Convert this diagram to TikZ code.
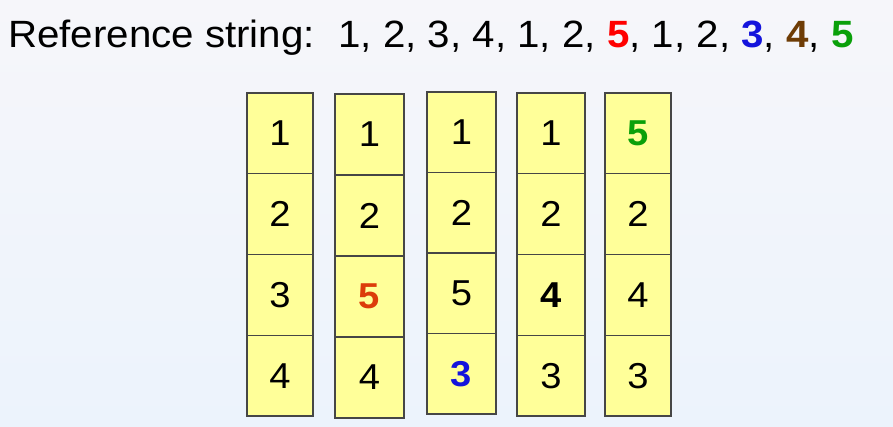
\documentclass[tikz,border=0pt]{standalone}
\usepackage{fontspec}
\setmainfont[FakeStretch=1.06]{Liberation Sans}
\usetikzlibrary{positioning,shadows}
\definecolor{cellfill}{RGB}{255,255,153}
\definecolor{cellline}{RGB}{70,70,70}
\definecolor{bgtop}{RGB}{246,246,250}
\definecolor{bgbot}{RGB}{236,243,252}
\definecolor{refred}{RGB}{255,0,0}
\definecolor{refblue}{RGB}{20,20,220}
\definecolor{refbrown}{RGB}{110,60,5}
\definecolor{refgreen}{RGB}{10,160,10}
\definecolor{refora}{RGB}{220,60,10}
\begin{document}
\begin{tikzpicture}[x=1pt,y=-1pt,
  cell/.style={draw=cellline,line width=1.2pt,fill=cellfill,inner sep=0pt,outer sep=0pt,
    minimum height=80.75pt,font=\fontsize{36}{36}\selectfont,
    drop shadow={shadow xshift=1.2pt,shadow yshift=-1pt,opacity=0.4}}]
  % background
  \shade[top color=bgtop,bottom color=bgbot] (0,0) rectangle (893,427);
  \useasboundingbox (0,0) rectangle (893,427);
  % reference string
  \node[anchor=base west,inner sep=0pt,font=\fontsize{38}{38}\selectfont] (refstr) at (8,48)
    {Reference string:\hspace{0.62em}1, 2, 3, 4, 1, 2, \textcolor{refred}{\bfseries 5}, 1, 2, \textcolor{refblue}{\bfseries 3}, \textcolor{refbrown}{\bfseries 4}, \textcolor{refgreen}{\bfseries 5}};
  % frame 1
  \node[cell,minimum width=66pt,anchor=north] (A1) at (280,93) {1};
  \node[cell,minimum width=66pt,below=0pt of A1] (A2) {2};
  \node[cell,minimum width=66pt,below=0pt of A2] (A3) {3};
  \node[cell,minimum width=66pt,below=0pt of A3] (A4) {4};
  % frame 2
  \node[cell,minimum width=69pt,minimum height=81pt,anchor=north] (B1) at (369.5,94) {1};
  \node[cell,minimum width=69pt,minimum height=81pt,below=0pt of B1] (B2) {2};
  \node[cell,minimum width=69pt,minimum height=81pt,below=0pt of B2] (B3) {\textcolor{refora}{\bfseries 5}};
  \node[cell,minimum width=69pt,minimum height=81pt,below=0pt of B3] (B4) {4};
  % frame 3
  \node[cell,minimum width=69pt,minimum height=80.5pt,anchor=north] (C1) at (461.5,92) {1};
  \node[cell,minimum width=69pt,minimum height=80.5pt,below=0pt of C1] (C2) {2};
  \node[cell,minimum width=69pt,minimum height=80.5pt,below=0pt of C2] (C3) {5};
  \node[cell,minimum width=69pt,minimum height=80.5pt,below=0pt of C3] (C4) {\textcolor{refblue}{\bfseries 3}};
  % frame 4
  \node[cell,minimum width=68pt,anchor=north] (D1) at (551,93) {1};
  \node[cell,minimum width=68pt,below=0pt of D1] (D2) {2};
  \node[cell,minimum width=68pt,below=0pt of D2] (D3) {\bfseries 4};
  \node[cell,minimum width=68pt,below=0pt of D3] (D4) {3};
  % frame 5
  \node[cell,minimum width=66pt,anchor=north] (E1) at (638,93) {\textcolor{refgreen}{\bfseries 5}};
  \node[cell,minimum width=66pt,below=0pt of E1] (E2) {2};
  \node[cell,minimum width=66pt,below=0pt of E2] (E3) {4};
  \node[cell,minimum width=66pt,below=0pt of E3] (E4) {3};
\end{tikzpicture}
\end{document}
